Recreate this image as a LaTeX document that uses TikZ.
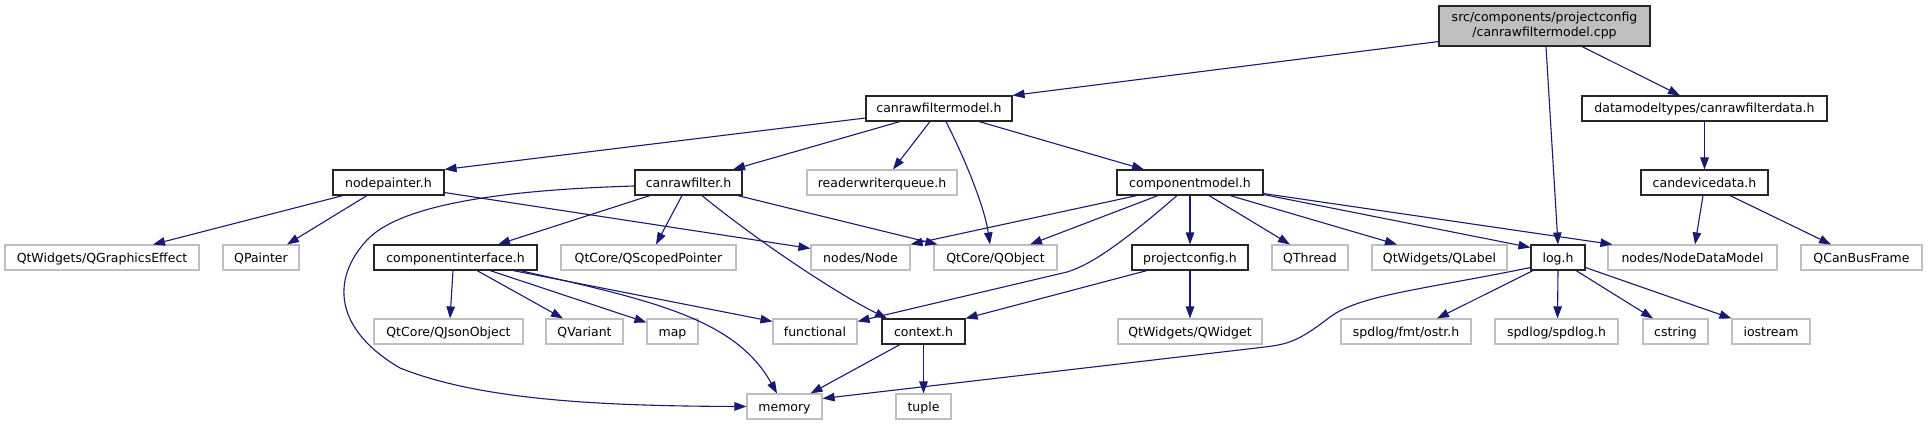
\documentclass[tikz,border=0pt]{standalone}
\usepackage{fontspec}
\setmainfont{DejaVu Sans}
\usetikzlibrary{arrows.meta}
\definecolor{midblue}{HTML}{191970}
\definecolor{grey75}{HTML}{BFBFBF}
\begin{document}
\begin{tikzpicture}[
    x=1pt, y=-1pt,
    every node/.style={font=\fontsize{12.5}{15}\selectfont, inner sep=0pt, minimum height=25pt},
    docfile/.style={draw=black!85, fill=white, line width=1.1pt, text height=11pt, text depth=2pt},
    extfile/.style={draw=grey75, fill=white, line width=1.1pt, text height=11pt, text depth=2pt},
    rootfile/.style={draw=black!85, fill=grey75, line width=1.1pt, minimum height=40pt, align=center},
    dep/.style={draw=midblue, line width=1.1pt, -{Triangle[length=12pt,width=8.5pt]}}
]
\useasboundingbox (0,0) rectangle (1928,425);

% top rows
\node[rootfile, minimum width=211pt] (root) at (1544.5,26) {src/components/projectconfig\\/canrawfiltermodel.cpp};
\node[docfile, minimum width=146pt] (model) at (939,108.5) {canrawfiltermodel.h};
\node[docfile, minimum width=245pt] (cfdata) at (1704.5,108.5) {datamodeltypes/canrawfilterdata.h};
\node[docfile, minimum width=111pt] (painter) at (388.5,182.5) {nodepainter.h};
\node[docfile, minimum width=107pt] (filter) at (688.5,182.5) {canrawfilter.h};
\node[extfile, minimum width=150pt] (rwq) at (882,182.5) {readerwriterqueue.h};
\node[docfile, minimum width=146pt] (compmodel) at (1190,182.5) {componentmodel.h};
\node[docfile, minimum width=127pt] (devdata) at (1704.5,182.5) {candevicedata.h};

% third row
\node[extfile, minimum width=194pt] (gfx) at (102,257.5) {QtWidgets/QGraphicsEffect};
\node[extfile, minimum width=76pt] (qpainter) at (261,257.5) {QPainter};
\node[docfile, minimum width=163pt] (compif) at (455.5,257.5) {componentinterface.h};
\node[extfile, minimum width=175pt] (scoped) at (648.5,257.5) {QtCore/QScopedPointer};
\node[extfile, minimum width=99pt] (node) at (860.5,257.5) {nodes/Node};
\node[extfile, minimum width=123pt] (qobject) at (995.5,257.5) {QtCore/QObject};
\node[docfile, minimum width=116pt] (projcfg) at (1190,257.5) {projectconfig.h};
\node[extfile, minimum width=76pt] (qthread) at (1310,257.5) {QThread};
\node[extfile, minimum width=135pt] (qlabel) at (1439.5,257.5) {QtWidgets/QLabel};
\node[docfile, minimum width=54pt] (log) at (1558,257.5) {log.h};
\node[extfile, minimum width=169pt] (ndm) at (1692.5,257.5) {nodes/NodeDataModel};
\node[extfile, minimum width=121pt] (busframe) at (1861.5,257.5) {QCanBusFrame};

% fourth row
\node[extfile, minimum width=149pt] (json) at (448.5,331.5) {QtCore/QJsonObject};
\node[extfile, minimum width=77pt] (qvariant) at (584.5,331.5) {QVariant};
\node[extfile, minimum width=51pt] (map) at (672.5,331.5) {map};
\node[extfile, minimum width=84pt] (functional) at (815,331.5) {functional};
\node[docfile, minimum width=83pt] (context) at (923.5,331.5) {context.h};
\node[extfile, minimum width=144pt] (qwidget) at (1190,331.5) {QtWidgets/QWidget};
\node[extfile, minimum width=130pt] (ostr) at (1406,331.5) {spdlog/fmt/ostr.h};
\node[extfile, minimum width=123pt] (spdlog) at (1556.5,331.5) {spdlog/spdlog.h};
\node[extfile, minimum width=65pt] (cstring) at (1675.5,331.5) {cstring};
\node[extfile, minimum width=78pt] (iostream) at (1771,331.5) {iostream};

% last row
\node[extfile, minimum width=75pt] (memory) at (784.5,406.5) {memory};
\node[extfile, minimum width=55pt] (tuple) at (923.5,406.5) {tuple};

% includes of the .cpp
\draw[dep] ([yshift=5pt]root.south west) -- (model.north east);
\draw[dep] ([xshift=1.5pt]root.south) -- (log.north);
\draw[dep] ([xshift=37.5pt]root.south) -- ([xshift=-24.5pt]cfdata.north);
\draw[dep] (cfdata.south) -- (devdata.north);

% canrawfiltermodel.h
\draw[dep] ([yshift=-9.5pt]model.west) -- (painter.north east);
\draw[dep] ([xshift=-39pt]model.south) -- ([xshift=44.5pt]filter.north);
\draw[dep] ([xshift=-9pt]model.south) -- ([xshift=11pt]rwq.north);
\draw[dep] ([xshift=7pt]model.south) .. controls (968,165) and (985,210) .. ([xshift=-5.5pt]qobject.north);
\draw[dep] ([xshift=40pt]model.south) -- ([xshift=-46pt]compmodel.north);

% nodepainter.h
\draw[dep] ([xshift=-45.5pt]painter.south) -- ([xshift=51pt]gfx.north);
\draw[dep] ([xshift=-21.5pt]painter.south) -- ([xshift=26pt]qpainter.north);
\draw[dep] ([yshift=3pt]painter.south east) -- ([yshift=-4pt]node.north west);

% canrawfilter.h
\draw[dep] ([xshift=-38.5pt]filter.south) -- ([xshift=42.5pt]compif.north);
\draw[dep] ([xshift=-6.5pt]filter.south) -- ([xshift=7.5pt]scoped.north);
\draw[dep] ([xshift=13.5pt]filter.south) .. controls (750,235) and (830,290) .. ([xshift=-36.5pt]context.north);
\draw[dep] ([xshift=-5pt]filter.south east) -- ([xshift=4pt]qobject.north west);
\draw[dep] ([yshift=-3.5pt]filter.west) .. controls (500,190) and (400,205) .. (367,240)
    .. controls (330,280) and (335,330) .. (400,368)
    .. controls (480,400) and (600,406) .. (memory.west);

% componentinterface.h
\draw[dep] ([xshift=-2.5pt]compif.south) -- ([xshift=1.5pt]json.north);
\draw[dep] ([xshift=21.5pt]compif.south) -- ([xshift=-21.5pt]qvariant.north);
\draw[dep] ([xshift=34.5pt]compif.south) -- ([yshift=-4pt]map.north west);
\draw[dep] ([xshift=57.5pt]compif.south) -- ([yshift=-3pt]functional.north west);
\draw[dep] ([xshift=64.5pt]compif.south) .. controls (650,300) and (735,318) .. ([xshift=-7.5pt]memory.north);

% componentmodel.h
\draw[dep] ([xshift=-53pt]compmodel.south) -- (node.north east);
\draw[dep] ([xshift=-32pt]compmodel.south) -- ([xshift=34.5pt]qobject.north);
\draw[dep] ([xshift=-13pt]compmodel.south) .. controls (1120,245) and (1090,265) .. (1067,272)
    -- ([yshift=-3pt]functional.north east);
\draw[dep] (compmodel.south) -- (projcfg.north);
\draw[dep] ([xshift=19pt]compmodel.south) -- ([xshift=-20pt]qthread.north);
\draw[dep] ([xshift=40pt]compmodel.south) -- ([xshift=-42.5pt]qlabel.north);
\draw[dep] ([yshift=1pt]compmodel.south east) -- ([yshift=-3pt]log.north west);
\draw[dep] ([yshift=2pt]compmodel.south east) -- ([xshift=5pt]ndm.north west);

% projectconfig.h and context.h
\draw[dep] ([xshift=-43pt]projcfg.south) -- (context.north east);
\draw[dep] (projcfg.south) -- (qwidget.north);
\draw[dep] ([xshift=-23.5pt]context.south) -- ([xshift=-12pt]memory.north east);
\draw[dep] (context.south) -- (tuple.north);

% log.h
\draw[dep] ([yshift=3pt]log.south west) .. controls (1420,290) and (1360,295) .. (1330,317)
    .. controls (1300,340) and (1290,344) .. (1265,347) -- ([yshift=8pt]memory.east);
\draw[dep] ([xshift=-25pt]log.south) -- ([xshift=31pt]ostr.north);
\draw[dep] (log.south) -- ([xshift=1pt]spdlog.north);
\draw[dep] ([xshift=18pt]log.south) -- ([xshift=-22.5pt]cstring.north);
\draw[dep] ([yshift=3pt]log.south east) -- (iostream.north west);

% candevicedata.h
\draw[dep] ([xshift=-1.5pt]devdata.south) -- ([xshift=2.5pt]ndm.north);
\draw[dep] ([xshift=25.5pt]devdata.south) -- ([xshift=-30.5pt]busframe.north);
\end{tikzpicture}
\end{document}
